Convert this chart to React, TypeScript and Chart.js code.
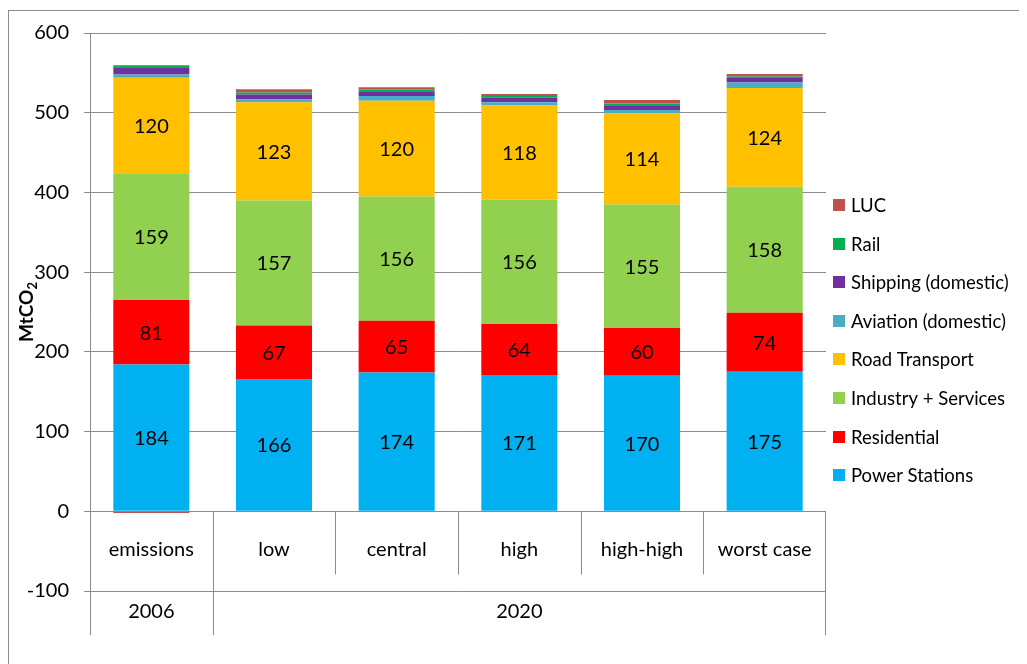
import React, { useEffect, useRef } from "react";
import { Chart, registerables } from "chart.js";

Chart.register(...registerables);

const categories = ["emissions", "low", "central", "high", "high-high", "worst case"];
const groupLabels = ["2006", "2020"];
const groupStart = [0, 1];
const groupEnd = [0, 5];

const powerStations = [184, 166, 174, 171, 170, 175];
const residential = [81, 67, 65, 64, 60, 74];
const industryServices = [159, 157, 156, 156, 155, 158];
const roadTransport = [120, 123, 120, 118, 114, 124];
const aviation = [4, 4, 6, 4, 4.5, 7];
const shipping = [9, 6, 6, 6, 6, 5.5];
const rail = [2.5, 2.5, 2, 2, 2, 2];
const luc = [-2, 4, 3, 2.5, 4.5, 3];

const yTicks = [-100, 0, 100, 200, 300, 400, 500, 600];

const FONT = "Lato, Carlito, Calibri, 'Liberation Sans', sans-serif";
const GRID = "#8c8c8c";

const W = 1019;
const H = 656;

const overlay = {
  id: "overlay",
  afterDatasetsDraw(chart: any) {
    const { ctx, chartArea, scales } = chart;
    const xs = scales.x;
    const ys = scales.y;
    ctx.save();

    // segment value labels for the four main series
    ctx.fillStyle = "#000";
    ctx.font = `20px ${FONT}`;
    ctx.textAlign = "center";
    ctx.textBaseline = "middle";
    for (let d = 0; d < 4; d++) {
      const meta = chart.getDatasetMeta(d);
      const vals = chart.data.datasets[d].data;
      meta.data.forEach((el: any, i: number) => {
        const p = el.getProps(["x", "y", "base"], true);
        ctx.fillText(String(vals[i]), p.x, (p.y + p.base) / 2 + 1);
      });
    }

    // category axis (drawn at zero)
    const y0 = Math.round(ys.getPixelForValue(0)) + 0.5;
    const yb = chartArea.bottom;
    const n = categories.length;
    const bound = (i: number) => {
      if (i <= 0) return chartArea.left;
      if (i >= n) return chartArea.right;
      return (xs.getPixelForValue(i - 1) + xs.getPixelForValue(i)) / 2;
    };
    ctx.strokeStyle = GRID;
    ctx.lineWidth = 1;
    ctx.beginPath();
    for (let i = 1; i < n; i++) {
      const bx = Math.round(bound(i)) + 0.5;
      const isGroup = groupStart.includes(i);
      ctx.moveTo(bx, y0);
      ctx.lineTo(bx, isGroup ? yb + 44 : y0 + 63);
    }
    const rx = Math.round(chartArea.right) - 0.5;
    ctx.moveTo(rx, y0);
    ctx.lineTo(rx, yb + 44);
    const lx = Math.round(chartArea.left) + 0.5;
    ctx.moveTo(lx, yb);
    ctx.lineTo(lx, yb + 44);
    ctx.stroke();

    ctx.fillStyle = "#000";
    ctx.font = `20px ${FONT}`;
    const labelY = (y0 + yb) / 2 - 2;
    categories.forEach((c, i) => {
      ctx.fillText(c, xs.getPixelForValue(i), labelY);
    });
    groupLabels.forEach((g, k) => {
      const cx = (bound(groupStart[k]) + bound(groupEnd[k] + 1)) / 2;
      ctx.fillText(g, cx, yb + 21);
    });

    // legend (top to bottom = reverse of stacking order)
    const ds = chart.data.datasets;
    ctx.textAlign = "left";
    ctx.font = `18.5px ${FONT}`;
    for (let k = 0; k < ds.length; k++) {
      const d = ds[ds.length - 1 - k];
      const cy = 197 + k * 38.6;
      ctx.fillStyle = d.backgroundColor;
      ctx.fillRect(825, Math.round(cy - 6), 12, 12);
      ctx.fillStyle = "#000";
      ctx.fillText(d.label, 843, cy + 1);
    }

    // y-axis title MtCO2
    ctx.save();
    ctx.translate(19, (chartArea.top + chartArea.bottom) / 2);
    ctx.rotate(-Math.PI / 2);
    ctx.font = `bold 19px ${FONT}`;
    const main = "MtCO";
    const w1 = ctx.measureText(main).width;
    ctx.font = `bold 13px ${FONT}`;
    const w2 = ctx.measureText("2").width;
    const start = -(w1 + w2) / 2;
    ctx.textAlign = "left";
    ctx.textBaseline = "middle";
    ctx.font = `bold 19px ${FONT}`;
    ctx.fillText(main, start, 0);
    ctx.font = `bold 13px ${FONT}`;
    ctx.fillText("2", start + w1, 6);
    ctx.restore();

    // outer frame
    ctx.strokeStyle = "#8a8a8a";
    ctx.lineWidth = 1;
    ctx.beginPath();
    ctx.moveTo(0.5, 2);
    ctx.lineTo(0.5, H);
    ctx.moveTo(0, 2.5);
    ctx.lineTo(W, 2.5);
    ctx.stroke();

    ctx.restore();
  },
};

export default function App() {
  const ref = useRef<HTMLCanvasElement | null>(null);

  useEffect(() => {
    if (!ref.current) return;
    const chart = new Chart(ref.current, {
      type: "bar",
      data: {
        labels: categories,
        datasets: [
          { label: "Power Stations", data: powerStations, backgroundColor: "#00B0F0" },
          { label: "Residential", data: residential, backgroundColor: "#FF0000" },
          { label: "Industry + Services", data: industryServices, backgroundColor: "#92D050" },
          { label: "Road Transport", data: roadTransport, backgroundColor: "#FFC000" },
          { label: "Aviation (domestic)", data: aviation, backgroundColor: "#4BACC6" },
          { label: "Shipping (domestic)", data: shipping, backgroundColor: "#7030A0" },
          { label: "Rail", data: rail, backgroundColor: "#00B050" },
          { label: "LUC", data: luc, backgroundColor: "#C0504D" },
        ].map((d) => ({ ...d, borderWidth: 0, categoryPercentage: 1, barPercentage: 0.62 })),
      },
      options: {
        responsive: false,
        animation: false,
        devicePixelRatio: 1,
        layout: { padding: { top: 25, right: 201, bottom: 73, left: 0 } },
        plugins: { legend: { display: false }, tooltip: { enabled: false }, title: { display: false } },
        scales: {
          x: { stacked: true, display: false },
          y: {
            stacked: true,
            min: -100,
            max: 600,
            afterBuildTicks: (scale: any) => {
              scale.ticks = yTicks.map((v) => ({ value: v }));
            },
            afterFit: (scale: any) => {
              scale.width = 82;
              scale.paddingTop = 0;
              scale.paddingBottom = 0;
            },
            grid: { color: GRID, lineWidth: 1, tickLength: 6, drawTicks: true },
            border: { display: true, color: GRID, width: 1 },
            ticks: {
              color: "#000",
              padding: 15,
              font: { family: FONT, size: 20, lineHeight: 1 },
            },
          },
        },
      },
      plugins: [overlay],
    });
    return () => chart.destroy();
  }, []);

  return (
    <div style={{ width: W, height: H, overflow: "hidden" }}>
      <canvas ref={ref} width={W} height={H} style={{ display: "block", width: W, height: H }} />
    </div>
  );
}
